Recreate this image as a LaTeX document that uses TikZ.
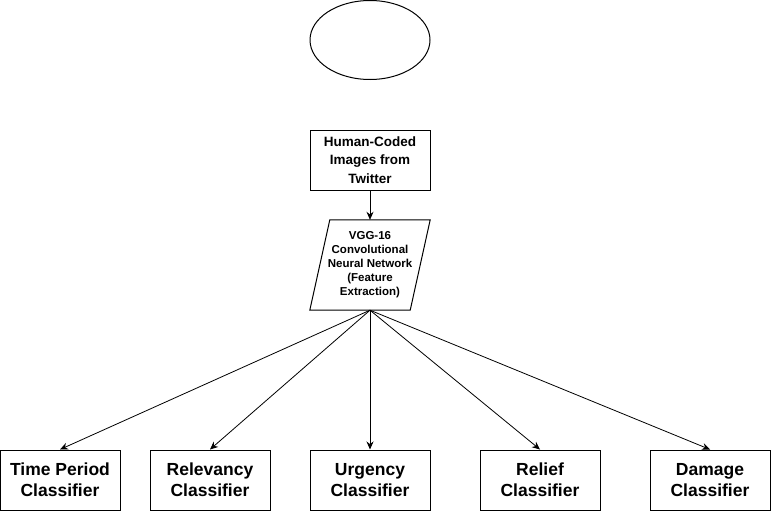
\documentclass[tikz,border=0pt]{standalone}
\usepackage{fontspec}
\setmainfont{Liberation Sans}
\usetikzlibrary{arrows.meta,shapes.geometric}
\begin{document}
\begin{tikzpicture}[x=1pt,y=-1pt,
    box/.style={draw,line width=1pt,minimum width=120pt,minimum height=60pt,inner sep=0pt,align=center,font=\bfseries\fontsize{13.5}{18.5}\selectfont},
    classbox/.style={box,font=\bfseries\fontsize{17.5}{21}\selectfont},
    pfeil/.style={-{Stealth[length=8pt,width=7pt]},line width=0.8pt}]
    \useasboundingbox (0,0) rectangle (771,511);

    % Mittelpunkte der Felder
    \coordinate (S) at (370,40);
    \coordinate (T) at (370,160);
    \coordinate (V) at (370,265);
    \coordinate (K1) at (60,480);
    \coordinate (K2) at (210,480);
    \coordinate (K3) at (370,480);
    \coordinate (K4) at (540,480);
    \coordinate (K5) at (710,480);

    % Oberer Teil
    \node[draw,ellipse,line width=1pt,minimum width=120pt,minimum height=79pt,inner sep=0pt] (start) at (S) {};
    \node[box] (tweets) at (T) {Human-Coded\\Images from\\Twitter};
    \node[minimum width=120pt,minimum height=90pt,inner sep=0pt,align=center,font=\bfseries\fontsize{11.5}{14}\selectfont] (vgg) at (V) {VGG-16\\Convolutional\\Neural Network\\(Feature\\Extraction)};
    \draw[line width=1pt] ([xshift=20pt]vgg.north west) -- (vgg.north east) -- ([xshift=-20pt]vgg.south east) -- (vgg.south west) -- cycle;

    % Klassifikatoren
    \node[classbox] (zeit) at (K1) {Time Period\\Classifier};
    \node[classbox] (relevanz) at (K2) {Relevancy\\Classifier};
    \node[classbox] (dringend) at (K3) {Urgency\\Classifier};
    \node[classbox] (hilfe) at (K4) {Relief\\Classifier};
    \node[classbox] (schaden) at (K5) {Damage\\Classifier};

    % Pfeile
    \draw[pfeil] (tweets) -- (vgg);
    \foreach \k in {zeit,relevanz,dringend,hilfe,schaden}
        \draw[pfeil] (vgg.south) -- (\k.north);
\end{tikzpicture}
\end{document}
